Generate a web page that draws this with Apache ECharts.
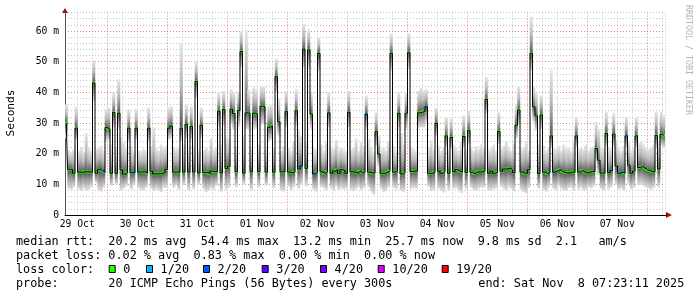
<!DOCTYPE html>
<html><head><meta charset="utf-8">
<script src="https://cdn.jsdelivr.net/npm/echarts@6/dist/echarts.min.js"></script>
<style>html,body{margin:0;padding:0;background:#fff}#c{width:697px;height:297px}</style>
</head><body><div id="c"></div>
<script>
// hourly buckets starting Oct 29 07:00 (240 hours)
const medianMs = [
30.0,14.9,14.9,13.6,28.3,14.0,13.9,14.1,14.1,14.0,
14.0,43.0,13.6,14.9,14.5,13.9,28.5,28.0,13.6,33.4,
13.6,33.2,14.7,13.3,13.9,28.3,13.8,13.8,28.3,14.0,
14.1,14.1,13.7,28.3,14.3,13.4,13.4,13.5,13.5,13.9,
14.9,28.3,29.0,14.0,14.0,13.9,28.3,14.0,29.6,14.0,
28.9,14.0,43.5,13.7,29.3,13.9,13.9,13.5,14.3,14.2,
14.2,33.9,13.7,34.4,15.2,15.9,34.5,33.1,14.1,34.0,
53.3,13.7,33.3,33.2,14.1,33.2,33.0,14.2,35.5,35.3,
14.0,28.6,29.1,14.0,45.1,30.4,14.1,14.0,33.7,14.0,
13.8,14.1,34.0,15.0,16.0,54.1,15.2,53.8,32.9,13.4,
14.0,52.7,14.1,13.6,14.1,33.3,13.6,14.3,14.8,13.6,
14.8,14.4,13.6,33.5,14.1,14.0,13.7,14.2,13.8,14.1,
32.9,14.0,13.7,13.7,27.2,19.9,13.6,13.6,13.9,14.5,
52.7,14.0,14.3,33.2,13.4,13.9,33.2,52.9,14.2,14.3,
14.3,33.3,33.5,33.8,35.3,13.6,13.6,14.1,29.9,14.3,
13.6,14.2,25.8,13.6,25.3,14.1,14.8,14.3,14.0,25.6,
13.9,27.5,13.9,13.5,14.0,14.0,14.1,14.4,37.7,13.6,
14.3,13.6,13.9,27.2,14.3,15.0,15.0,15.3,14.7,13.8,
29.3,34.2,14.0,13.6,13.6,14.8,52.7,35.3,32.3,13.5,
32.6,14.0,13.5,14.0,25.8,14.0,14.3,14.8,14.2,13.9,
13.7,13.7,14.0,14.0,25.8,14.0,14.5,14.0,13.7,14.0,
14.2,14.2,21.7,17.9,13.7,13.6,26.6,13.8,14.5,26.4,
16.0,13.6,14.0,13.6,25.8,16.3,13.6,14.3,25.8,15.5,
15.8,15.3,14.8,14.5,14.1,14.1,25.9,15.0,26.3,25.9
];
const smokeMinMs = [
25.0,8.6,8.2,9.0,24.5,8.4,7.8,8.8,8.0,8.3,
9.1,37.0,10.5,8.0,7.6,8.9,24.0,24.5,9.5,28.5,
10.0,28.0,7.9,8.6,9.3,24.0,8.4,9.6,24.5,8.7,
8.1,7.9,8.8,24.0,8.5,7.8,8.4,8.0,7.5,9.0,
8.8,24.5,25.0,8.9,9.6,8.2,24.0,9.7,25.0,7.9,
24.5,8.3,38.0,9.9,25.0,8.5,7.4,7.9,8.6,8.2,
9.5,28.5,7.4,29.0,8.2,8.8,29.5,28.0,9.0,28.5,
48.0,10.0,28.0,28.0,8.0,28.0,28.0,9.0,29.5,29.5,
9.5,24.0,24.5,8.6,40.0,26.0,8.0,7.6,28.5,9.3,
8.0,9.1,29.0,8.5,9.8,48.0,9.4,48.0,28.0,8.2,
7.6,47.0,9.0,8.8,8.0,28.5,8.6,7.9,9.3,8.1,
8.7,8.2,8.5,28.5,8.0,7.7,8.4,9.1,8.0,8.6,
28.0,9.0,7.6,6.6,22.5,16.0,8.5,7.4,8.0,9.0,
47.0,8.9,8.3,28.5,7.9,7.5,28.0,47.5,8.4,8.8,
8.5,28.5,28.5,28.5,30.0,9.2,7.7,8.1,25.5,8.5,
7.9,7.3,22.0,8.0,21.5,8.4,8.8,8.0,7.2,22.0,
8.4,23.0,9.0,8.2,7.8,8.5,9.0,8.8,33.0,8.0,
7.9,8.4,8.6,23.0,9.2,8.6,8.0,9.1,8.5,7.7,
25.0,29.5,8.2,7.5,7.0,8.8,47.0,30.5,27.5,8.6,
28.0,8.0,7.6,8.9,22.0,8.5,8.0,9.4,8.4,8.0,
7.8,8.7,9.0,8.0,22.0,8.3,8.9,7.9,8.2,9.0,
8.6,9.3,18.0,13.0,8.5,8.0,22.5,8.4,9.1,22.5,
9.8,8.2,8.6,7.9,22.0,10.0,8.4,8.8,22.0,9.6,
9.8,9.4,9.0,8.6,8.2,8.8,22.0,9.0,22.5,22.0
];
const smokeMaxMs = [
36.0,21.0,20.5,21.5,35.3,21.0,22.0,20.5,26.7,22.0,
21.0,50.5,21.5,21.8,22.5,21.0,34.5,35.0,23.0,39.8,
22.0,44.3,25.4,24.0,22.0,34.5,22.5,21.0,34.5,21.2,
20.8,21.5,21.0,35.0,22.5,28.5,22.0,21.0,23.0,22.0,
22.5,35.0,35.5,22.3,21.5,22.0,56.0,23.0,36.0,22.0,
35.5,22.5,50.0,21.5,35.0,21.2,22.0,21.0,25.0,21.5,
22.0,40.0,23.0,40.5,25.4,25.0,41.0,40.0,22.5,40.0,
60.0,26.0,60.3,41.0,22.0,41.6,41.0,23.0,42.0,42.0,
21.5,35.5,36.0,22.0,51.0,38.0,21.0,22.5,40.5,22.0,
21.0,24.0,41.0,28.0,26.0,62.3,24.0,60.6,40.0,22.0,
21.5,58.0,23.0,21.0,24.0,40.0,22.0,21.5,24.5,21.2,
22.0,21.5,20.8,40.5,21.5,22.0,25.0,21.0,24.0,22.5,
39.0,25.0,22.0,20.5,33.5,26.0,21.5,22.0,21.0,24.0,
59.2,22.5,21.0,40.0,26.7,23.0,40.0,59.2,22.0,21.5,
21.0,40.5,41.5,40.5,41.0,22.0,24.5,21.5,35.0,22.5,
21.0,22.0,32.0,21.5,31.5,23.0,22.0,21.0,24.0,32.5,
21.5,34.0,22.0,21.0,22.5,21.5,23.0,22.0,45.0,21.5,
21.8,23.0,21.0,33.5,21.5,22.5,24.0,22.0,21.0,23.5,
36.0,42.0,21.5,22.0,24.0,21.0,64.7,42.0,40.0,23.5,
39.0,22.5,21.0,22.0,47.3,22.0,21.5,22.5,21.0,23.0,
21.5,22.0,21.0,24.0,32.0,21.5,22.0,21.5,23.0,21.0,
22.0,22.5,30.4,28.0,22.0,21.5,33.7,22.0,21.5,33.2,
24.5,22.0,21.0,22.5,32.0,24.0,21.0,22.0,32.0,23.5,
24.0,23.0,22.0,21.5,22.0,23.0,33.7,24.0,33.7,32.5
];
const lossHours = [15,27,72,94,99,120,144,195,218,222,224];
const lossPings = [1,1,1,1,1,1,1,1,1,1,1];
const xTickLabels = ['29 Oct','30 Oct','31 Oct','01 Nov','02 Nov','03 Nov','04 Nov','05 Nov','06 Nov','07 Nov'];
const lossLegendLabels = ['0','1/20','2/20','3/20','4/20','10/20','19/20'];
const lossLegendThresholds = [0,1,2,3,4,10,19];
const lossLegendColors = ['#26ff00','#00b8ff','#0059ff','#5e00ff','#7e00ff','#dd00ff','#ff0000'];
const statLine1 = 'median rtt:  20.2 ms avg  54.4 ms max  13.2 ms min  25.7 ms now  9.8 ms sd  2.1   am/s';
const statLine2 = 'packet loss: 0.02 % avg  0.83 % max  0.00 % min  0.00 % now';
const probeLine = 'probe:       20 ICMP Echo Pings (56 Bytes) every 300s';
const endLine = 'end: Sat Nov  8 07:23:11 2025';

const FIRST_NOON = 5, FIRST_MIDNIGHT = 17; // hour offsets from Oct 29 07:00
const categories = medianMs.map((_, i) => String(i));
const lossByHour = medianMs.map(() => 0);
lossHours.forEach((h, k) => { lossByHour[h] = lossPings[k]; });
function lossColor(n) {
  let idx = 0;
  lossLegendThresholds.forEach((t, k) => { if (n >= t) idx = k; });
  return lossLegendColors[idx];
}
const MONO = '"DejaVu Sans Mono", monospace';
const MAJ = 'rgba(230,70,70,0.7)', MIN = 'rgba(150,150,150,0.55)';

const chart = echarts.init(document.getElementById('c'), null, {renderer: 'canvas'});
const G = echarts.graphic.LinearGradient;
const legendBoxX = [108.7, 146, 203, 261.7, 320, 377.7, 441.7];
const graphics = [
  {type:'text', x:11, y:113, rotation:Math.PI/2, style:{text:'Seconds', font:'11.2px '+MONO, fill:'#000', align:'center', verticalAlign:'middle'}},
  {type:'text', x:688, y:60, rotation:-Math.PI/2, style:{text:'RRDTOOL / TOBI OETIKER', font:'8.3px '+MONO, fill:'#b4b4b4', align:'center', verticalAlign:'middle'}},
  {type:'polygon', shape:{points:[[62,13],[68,13],[65,8]]}, style:{fill:'#a01010'}},
  {type:'polygon', shape:{points:[[666,212],[666,218],[672,215]]}, style:{fill:'#a01010'}},
  {type:'line', shape:{x1:665,y1:215.5,x2:667,y2:215.5}, style:{stroke:'#000',lineWidth:1}},
  {type:'text', x:16, y:241.5, style:{text:statLine1, font:'11.8px '+MONO, fill:'#000', verticalAlign:'middle'}},
  {type:'text', x:16, y:255.5, style:{text:statLine2, font:'11.8px '+MONO, fill:'#000', verticalAlign:'middle'}},
  {type:'text', x:16, y:269.5, style:{text:'loss color:', font:'11.8px '+MONO, fill:'#000', verticalAlign:'middle'}},
  {type:'text', x:16, y:283.5, style:{text:probeLine, font:'11.8px '+MONO, fill:'#000', verticalAlign:'middle'}},
  {type:'text', x:478.3, y:283.5, style:{text:endLine, font:'11.8px '+MONO, fill:'#000', verticalAlign:'middle'}}
];
lossLegendLabels.forEach((lab, k) => {
  graphics.push({type:'rect', shape:{x:legendBoxX[k]+0.5, y:265.5, width:6, height:7}, style:{fill:lossLegendColors[k], stroke:'#000', lineWidth:1}});
  graphics.push({type:'text', x:legendBoxX[k]+14.6, y:269.5, style:{text:lab, font:'11.8px '+MONO, fill:'#000', verticalAlign:'middle'}});
});

const option = {
  animation: false,
  backgroundColor: '#fff',
  grid: {left: 65, right: 32, top: 12.6, bottom: 82, containLabel: false},
  xAxis: [{
    type: 'category', data: categories, boundaryGap: true,
    axisLine: {show: true, lineStyle: {color: '#000', width: 1}},
    axisTick: {show: false},
    axisLabel: {
      interval: (i) => (i - FIRST_NOON) % 24 === 0 && i >= FIRST_NOON,
      formatter: (v, i) => xTickLabels[(i - FIRST_NOON) / 24] || '',
      fontFamily: MONO, fontSize: 9.7, color: '#000', margin: 4, padding: [0, 3, 0, 0]
    },
    splitLine: {
      show: true,
      interval: (i) => (i - FIRST_MIDNIGHT) % 6 === 0,
      lineStyle: {color: [MIN, MIN, MAJ, MIN], width: 1, type: [1, 2]}
    }
  }],
  yAxis: [{
    type: 'value', min: 0, max: 66, interval: 2,
    axisLine: {show: true, lineStyle: {color: '#555', width: 1}},
    axisTick: {show: false},
    axisLabel: {
      formatter: (v) => v === 0 ? '0' : (v % 10 === 0 ? v + ' m' : ''),
      fontFamily: MONO, fontSize: 9.7, color: '#000', margin: 6
    },
    splitLine: {show: true, lineStyle: {color: [MAJ, MIN, MIN, MIN, MIN], width: 1, type: [1, 2]}}
  }],
  graphic: graphics,
  series: [
    {type: 'bar', stack: 'smoke', silent: true, barCategoryGap: '0%', barWidth: 3,
     data: smokeMinMs, itemStyle: {color: 'rgba(0,0,0,0)'}},
    {type: 'bar', stack: 'smoke', silent: true, barWidth: 3,
     data: medianMs.map((m, i) => +(m - smokeMinMs[i]).toFixed(2)),
     itemStyle: {color: new G(0, 0, 0, 1, [{offset: 0, color: '#4e4e4e'}, {offset: 0.4, color: '#959595'}, {offset: 1, color: '#e2e2e2'}])}},
    {type: 'bar', stack: 'smoke', silent: true, barWidth: 3,
     data: smokeMaxMs.map((x, i) => +(x - medianMs[i]).toFixed(2)),
     itemStyle: {color: new G(0, 0, 0, 1, [{offset: 0, color: '#e6e6e6'}, {offset: 0.5, color: '#b8b8b8'}, {offset: 1, color: '#5a5a5a'}])}},
    {type: 'line', step: 'middle', data: medianMs, symbol: 'none', silent: true,
     lineStyle: {color: '#000', width: 1}},
    {type: 'scatter', data: medianMs, symbol: 'rect', symbolSize: [2.6, 3], silent: true,
     itemStyle: {color: (p) => lossColor(lossByHour[p.dataIndex])}}
  ]
};
chart.setOption(option);
</script></body></html>
